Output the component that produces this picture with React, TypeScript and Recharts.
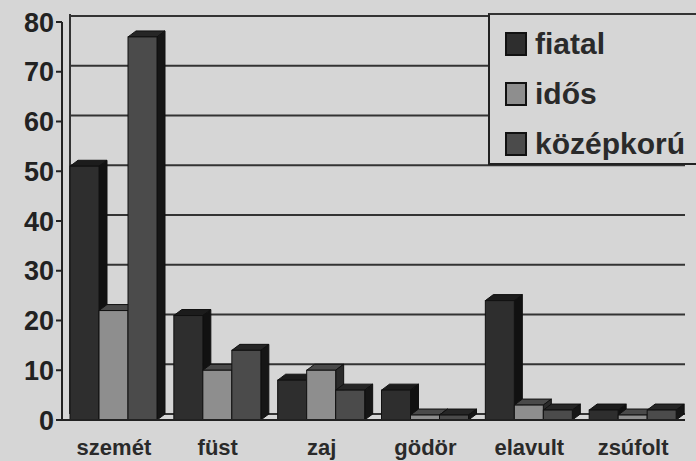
import { BarChart, Bar, XAxis, YAxis, CartesianGrid } from 'recharts'

const CATEGORIES = ['szemét', 'füst', 'zaj', 'gödör', 'elavult', 'zsúfolt']
const FIATAL = [51, 21, 8, 6, 24, 2]
const IDOS = [22, 10, 10, 1, 3, 1]
const KOZEPKORU = [77, 14, 6, 1, 2, 2]
const Y_TICKS = [0, 10, 20, 30, 40, 50, 60, 70, 80]

const SERIES = [
  { key: 'fiatal', front: '#2e2e2e', top: '#1c1c1c', side: '#111111' },
  { key: 'idős', front: '#8e8e8e', top: '#4a4a4a', side: '#2a2a2a' },
  { key: 'középkorú', front: '#4b4b4b', top: '#262626', side: '#161616' },
]

const data = CATEGORIES.map((name, i) => ({
  name,
  fiatal: FIATAL[i],
  'idős': IDOS[i],
  'középkorú': KOZEPKORU[i],
}))

const FONT = '"Liberation Sans", Arial, sans-serif'
const BG = '#d6d6d6'
const DX = 8 // 3d depth
const DY = 6

function make3DBar(colors: { front: string; top: string; side: string }) {
  return (props: any) => {
    const { x, y, width, height } = props
    if (height == null || width == null) return <g />
    const b = y + height
    return (
      <g stroke="#111" strokeWidth={1}>
        <polygon points={`${x},${y} ${x + DX},${y - DY} ${x + width + DX},${y - DY} ${x + width},${y}`} fill={colors.top} />
        <polygon points={`${x + width},${y} ${x + width + DX},${y - DY} ${x + width + DX},${b - DY} ${x + width},${b}`} fill={colors.side} />
        <rect x={x} y={y} width={width} height={height} fill={colors.front} />
      </g>
    )
  }
}

function CategoryTick(props: any) {
  const { x, y, payload } = props
  return (
    <text x={x} y={y + 27} textAnchor="middle" fontFamily={FONT} fontWeight="bold" fontSize={22} fill="#2a2a2a">
      {payload.value}
    </text>
  )
}

function LegendBox() {
  return (
    <div
      style={{
        position: 'absolute',
        left: 488,
        top: 13,
        width: 208,
        height: 152,
        borderLeft: '2px solid #222',
        borderTop: '2px solid #333',
        borderBottom: '2px solid #222',
        background: BG,
        boxSizing: 'border-box',
        paddingTop: 4,
        paddingLeft: 15,
      }}
    >
      {SERIES.map((s) => (
        <div key={s.key} style={{ display: 'flex', alignItems: 'center', height: 50 }}>
          <span style={{ width: 18, height: 20, background: s.front, border: '2px solid #111', marginRight: 8 }} />
          <span style={{ fontFamily: FONT, fontWeight: 'bold', fontSize: 30, color: '#2a2a2a' }}>{s.key}</span>
        </div>
      ))}
    </div>
  )
}

export default function App() {
  return (
    <div style={{ position: 'absolute', left: 0, top: 0, width: 696, height: 461, background: BG }}>
      <BarChart
        width={696}
        height={461}
        data={data}
        margin={{ top: 22, right: 11, bottom: 0, left: 0 }}
        barGap={0}
        barSize={29}
      >
        <CartesianGrid
          verticalPoints={[70]}
          horizontal={(p: any) => (
            <line key={`h-${p.index}`} x1={p.x1 + 8} x2={p.x2} y1={p.y1 - 6} y2={p.y2 - 6} stroke="#333" strokeWidth={2} />
          )}
          vertical={(p: any) => (
            <line key={`v-${p.index}`} x1={p.x1} x2={p.x2} y1={p.y1 - 8} y2={p.y2 - 6} stroke="#333" strokeWidth={2} />
          )}
        />
        <XAxis
          dataKey="name"
          height={41}
          tickLine={false}
          axisLine={{ stroke: '#222', strokeWidth: 2 }}
          tick={<CategoryTick />}
          interval={0}
        />
        <YAxis
          width={62}
          domain={[0, 80]}
          ticks={Y_TICKS}
          interval={0}
          tickSize={6}
          tickMargin={2}
          axisLine={{ stroke: '#222', strokeWidth: 2 }}
          tickLine={{ stroke: '#222', strokeWidth: 2 }}
          tick={{ fontFamily: FONT, fontWeight: 'bold', fontSize: 27, fill: '#222' }}
        />
        {SERIES.map((s) => (
          <Bar key={s.key} dataKey={s.key} shape={make3DBar(s)} isAnimationActive={false} />
        ))}
      </BarChart>
      <LegendBox />
    </div>
  )
}
